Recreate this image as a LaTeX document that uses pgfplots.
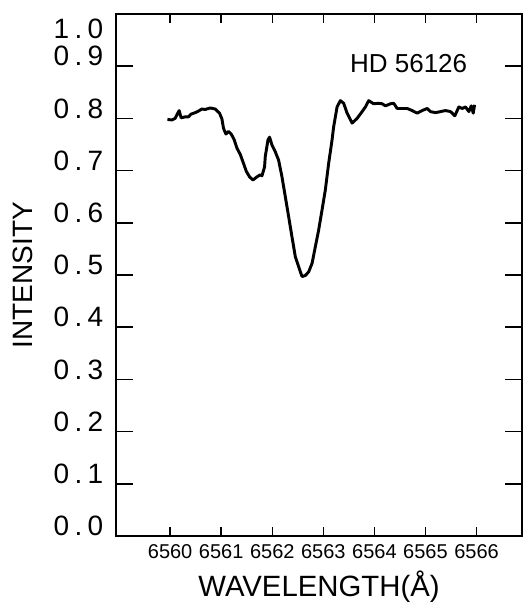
\documentclass[border=0pt]{standalone}
\usepackage{pgfplots}
\pgfplotsset{compat=1.18}
\usepackage{pgfplotstable}
\usepackage{fontspec}
\setmainfont{Liberation Sans}

\pgfplotstableread{
lam I
6559.947 0.798
6560.033 0.797
6560.098 0.800
6560.176 0.815
6560.216 0.801
6560.294 0.803
6560.359 0.803
6560.406 0.808
6560.490 0.811
6560.555 0.814
6560.622 0.818
6560.686 0.817
6560.784 0.820
6560.882 0.818
6560.967 0.810
6561.014 0.799
6561.045 0.781
6561.092 0.770
6561.143 0.775
6561.196 0.770
6561.255 0.759
6561.308 0.743
6561.373 0.731
6561.425 0.717
6561.490 0.699
6561.555 0.688
6561.622 0.682
6561.700 0.688
6561.765 0.692
6561.798 0.690
6561.849 0.707
6561.863 0.727
6561.916 0.759
6561.947 0.764
6561.994 0.749
6562.059 0.736
6562.124 0.720
6562.190 0.688
6562.255 0.650
6562.320 0.612
6562.386 0.573
6562.451 0.535
6562.516 0.516
6562.582 0.497
6562.647 0.499
6562.712 0.506
6562.778 0.522
6562.843 0.554
6562.908 0.586
6562.975 0.625
6563.039 0.663
6563.104 0.714
6563.171 0.759
6563.202 0.784
6563.269 0.822
6563.333 0.834
6563.398 0.829
6563.465 0.810
6563.563 0.791
6563.661 0.800
6563.759 0.813
6563.824 0.822
6563.888 0.834
6563.986 0.828
6564.084 0.829
6564.151 0.828
6564.216 0.824
6564.314 0.828
6564.378 0.829
6564.445 0.819
6564.543 0.819
6564.641 0.819
6564.739 0.815
6564.837 0.810
6564.935 0.815
6565.033 0.819
6565.098 0.813
6565.196 0.811
6565.294 0.813
6565.392 0.815
6565.490 0.813
6565.575 0.805
6565.653 0.822
6565.720 0.819
6565.784 0.822
6565.849 0.813
6565.896 0.824
6565.935 0.810
6565.961 0.826
}\spectrum

\begin{document}
\begin{tikzpicture}
\path[use as bounding box] (-87pt,-49.5pt) rectangle (306pt,402pt);
\begin{axis}[
  scale only axis,
  width=304.5pt, height=391.5pt,
  at={(0,0)}, anchor=south west,
  xmin=6558.94, xmax=6566.89,
  ymin=0, ymax=1,
  axis line style={line width=1.1pt},
  tick style={line width=1.1pt, black},
  tick align=inside,
  tick pos=both,
  major tick length=13pt,
  xtick={6560,6561,6562,6564,6565,6566},
  xticklabels={6560,6561,6562,6564,6565,6566},
  xtick style={/pgfplots/major tick length=7pt},
  extra x ticks={6563},
  extra x tick labels={6563},
  extra x tick style={/pgfplots/major tick length=15pt},
  xticklabel style={font=\fontsize{15}{17}\selectfont, yshift=-3pt},
  ytick={0,0.1,0.2,0.3,0.4,0.5,0.6,0.7,0.8,0.9},
  yticklabels={0\kern4pt.\kern4pt0,0\kern4pt.\kern4pt1,0\kern4pt.\kern4pt2,0\kern4pt.\kern4pt3,0\kern4pt.\kern4pt4,0\kern4pt.\kern4pt5,0\kern4pt.\kern4pt6,0\kern4pt.\kern4pt7,0\kern4pt.\kern4pt8,0\kern4pt.\kern4pt9},
  extra y ticks={1.0},
  extra y tick labels={1\kern4pt.\kern4pt0},
  extra y tick style={yticklabel style={yshift=-19pt}},
  yticklabel style={font=\fontsize{21}{24}\selectfont, yshift=7.5pt, xshift=-6pt},
  xlabel={WAVELENGTH(Å)},
  ylabel={INTENSITY},
  xlabel style={font=\fontsize{22}{26}\selectfont},
  ylabel style={font=\fontsize{21}{24}\selectfont},
  xlabel shift=2pt,
  ylabel shift=9pt,
  clip=false,
]
\addplot[black, line width=2.2pt, line join=round] table[x=lam, y=I] {\spectrum};
\node[font=\fontsize{19.5}{22}\selectfont] at (axis cs:6564.67,0.906) {HD 56126};
\end{axis}
\end{tikzpicture}
\end{document}
